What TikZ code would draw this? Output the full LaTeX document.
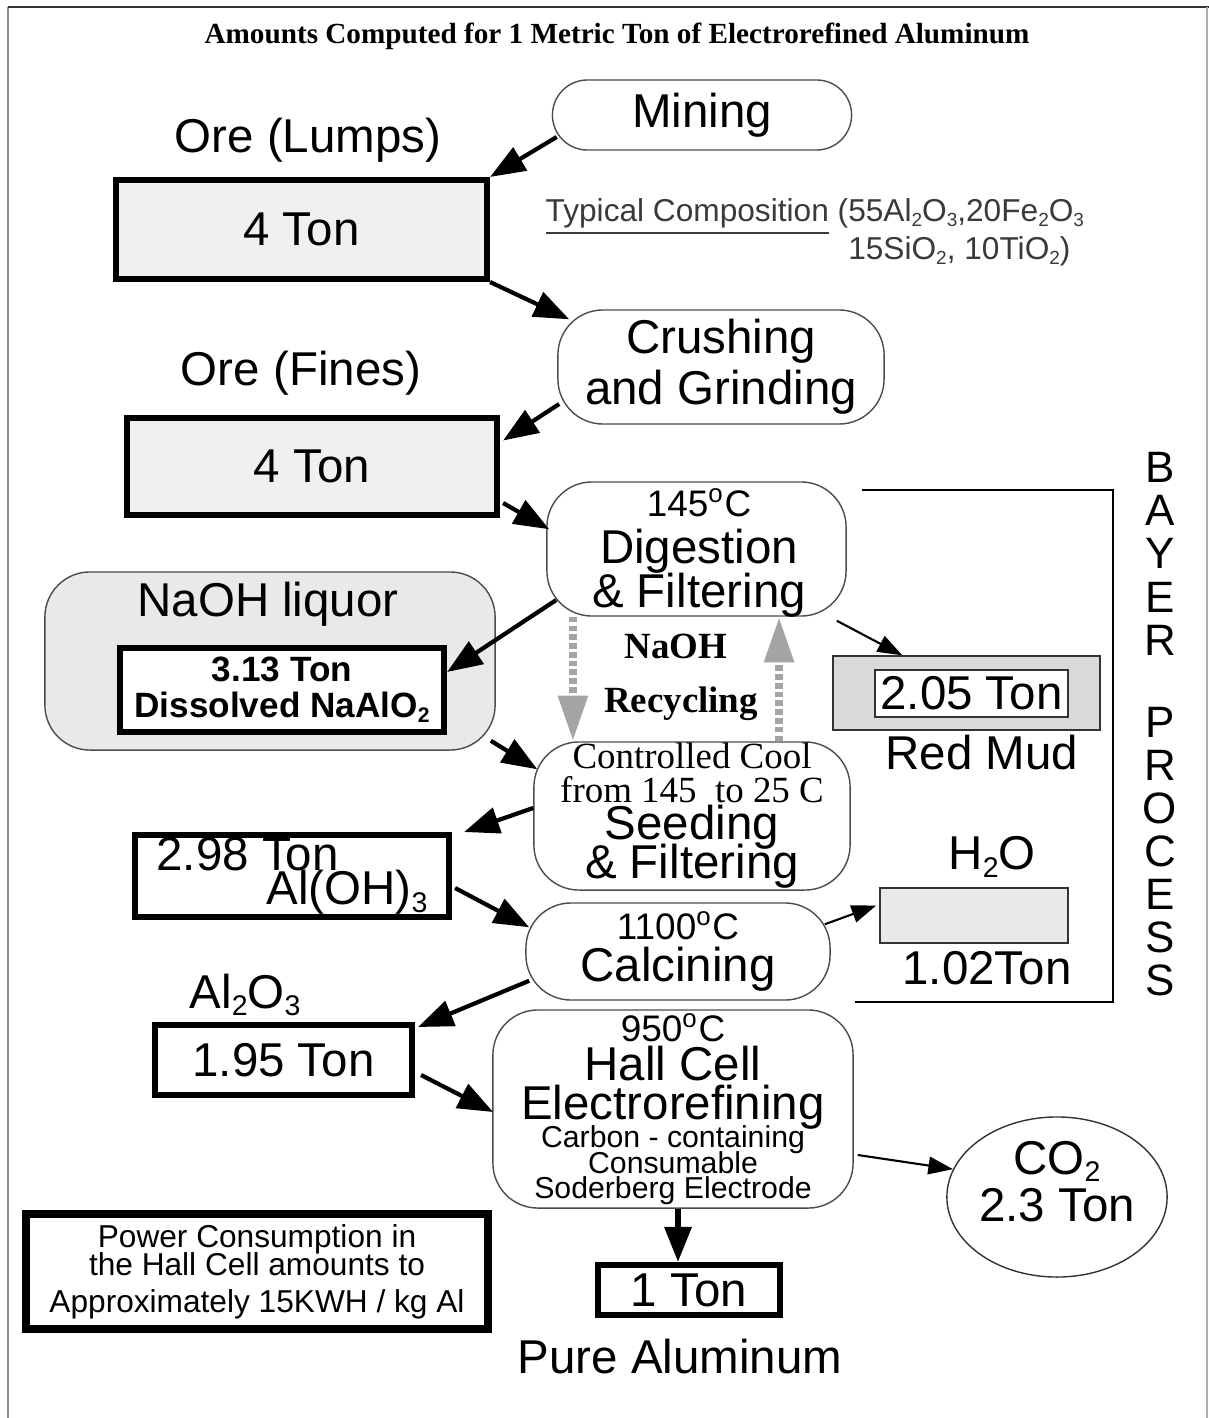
\documentclass[tikz,border=0pt]{standalone}
\usepackage{fontspec}
\setmainfont{Liberation Sans}
\newfontfamily\timesfont{Liberation Serif}
\usetikzlibrary{arrows.meta, positioning, shapes.geometric}
\definecolor{framegray}{HTML}{8c8c8c}
\definecolor{boxgray}{HTML}{f0f0f0}
\definecolor{liquorgray}{HTML}{e9e9e9}
\definecolor{mudgray}{HTML}{d9d9d9}
\definecolor{recyclegray}{HTML}{a4a4a4}
\definecolor{textgray}{HTML}{3a3a3a}
\newcommand{\degC}{\textsuperscript{o}C}
\newcommand{\chemsub}[1]{\raisebox{-0.3ex}{\scalebox{0.6}{#1}}}

\begin{document}
\begin{tikzpicture}[x=0.01cm, y=-0.01cm,
    big/.style={font=\fontsize{13.5}{13}\selectfont},
    proc/.style={draw=black!70, rounded corners=0.45cm, align=center, inner sep=0pt, big},
    heavy/.style={draw=black, line width=1.7pt, inner sep=0pt, align=center, big},
    flow/.style={line width=1.2pt, -{Triangle[length=10pt,width=7.5pt]}},
    thinflow/.style={line width=0.6pt, -{Triangle[length=7pt,width=5pt]}},
    recycle/.style={recyclegray, line width=2.4pt, dash pattern=on 1.6pt off 0.9pt,
      -{Triangle[length=13pt,width=8pt]}},
    serifbold/.style={font=\timesfont\bfseries\fontsize{10.5}{12}\selectfont}]
    \useasboundingbox (0,0) rectangle (1209,1418);
    \draw[framegray, line width=0.6pt] (8,1418) -- (8,7);
    \draw[black!80, line width=0.7pt] (8,7) -- (1209,7);
    \draw[framegray!70, line width=0.6pt] (1207,7) -- (1207,1418);

    \node (title) at (617,36)
      {\timesfont\bfseries\fontsize{8.3}{9}\selectfont Amounts Computed for 1 Metric Ton of Electrorefined Aluminum};

    % mining : ore lumps
    \node[proc, rounded corners=0.35cm, minimum width=2.99cm, minimum height=0.70cm] (mining) at (702,115) {Mining};
    \node[big] (lumpslbl) at (308,140) {Ore (Lumps)};
    \node[heavy, fill=boxgray, minimum width=3.71cm, minimum height=0.99cm] (lumps) at (301.5,229.5) {4 Ton};
    \node[anchor=west, align=left, inner sep=0pt, text=textgray, font=\fontsize{9}{10.8}\selectfont] (comp) at (545,236)
      {\underline{Typical Composition} (55Al\chemsub{2}O\chemsub{3},20Fe\chemsub{2}O\chemsub{3}\\
       \phantom{\underline{Typical Composition} (}15SiO\chemsub{2}, 10TiO\chemsub{2})};

    % crushing : ore fines
    \node[proc, minimum width=3.26cm, minimum height=1.14cm] (crush) at (721,367) {Crushing\\[1.5pt]and Grinding};
    \node[big] (fineslbl) at (301,373) {Ore (Fines)};
    \node[heavy, fill=boxgray, minimum width=3.70cm, minimum height=0.97cm] (fines) at (312,466.5) {4 Ton};

    % digestion : liquor and red mud
    \node[proc, minimum width=2.99cm, minimum height=1.34cm] (digest) at (696.5,549) {};
    \node[align=center, inner sep=0pt, big] (digesttxt) at (699,553)
      {{\fontsize{10.5}{13}\selectfont 145\degC}\\[0.5pt]Digestion\\[-0.5pt]\& Filtering};
    \node[draw=black!70, fill=liquorgray, rounded corners=0.45cm, minimum width=4.50cm, minimum height=1.78cm] (liquor) at (270,661) {};
    \node[big] (liquorlbl) at (268,604) {NaOH liquor};
    \node[heavy, fill=white, minimum width=3.24cm, minimum height=0.84cm, font=\bfseries\fontsize{10}{10}\selectfont] (naalo) at (282,690)
      {3.13 Ton\\Dissolved NaAlO\chemsub{2}};
    \node[draw=black!80, fill=mudgray, minimum width=2.67cm, minimum height=0.74cm] (redmud) at (966.5,693) {};
    \node[draw=black!80, fill=white, minimum width=1.93cm, minimum height=0.47cm, inner sep=0pt, big] (mudton) at (971.5,693.5) {2.05 Ton};
    \node[big] (redmudlbl) at (982,753) {Red Mud};

    % cooling and seeding
    \node[proc, minimum width=3.16cm, minimum height=1.48cm] (cool) at (692,816)
      {{\timesfont\fontsize{10.5}{13}\selectfont Controlled Cool}\\[-3.3pt]
       {\timesfont\fontsize{10.5}{13}\selectfont from 145\ \ to 25 C}\\[-2.6pt]
       Seeding\\[-1.8pt]\& Filtering};
    \node[serifbold] (naohlbl) at (676,646) {NaOH};
    \node[serifbold] (recyclbl) at (681,704) {Recycling};
    \node[heavy, align=left, minimum width=3.14cm, minimum height=0.82cm] (hydrox) at (292,876)
      {2.98 Ton\\[-3.2pt]\hspace*{1.1cm}Al(OH)\chemsub{3}};

    % calcining : water
    \node[proc, minimum width=3.04cm, minimum height=0.97cm] (calcine) at (678,951.5)
      {{\fontsize{10.5}{13}\selectfont 1100\degC}\\[-1pt]Calcining};
    \node[draw=black!80, fill=liquorgray, minimum width=1.88cm, minimum height=0.55cm] (water) at (974,915.5) {};
    \node[big] (waterlbl) at (992,857) {H\chemsub{2}O};
    \node[big] (waterton) at (987,968) {1.02Ton};

    % bayer process bracket
    \draw[line width=0.6pt] (862,490) -- (1113,490) -- (1113,1002) -- (855,1002);
    \foreach \l [count=\i from 0] in {B,A,Y,E,R}
      \node[font=\fontsize{12.5}{13}\selectfont] (bayer\i) at (1160,467+43.3*\i) {\l};
    \foreach \l [count=\i from 0] in {P,R,O,C,E,S,S}
      \node[font=\fontsize{12.5}{13}\selectfont] (process\i) at (1160,722+43*\i) {\l};

    % hall cell : alumina in, aluminium and co2 out
    \node[big] (aluminalbl) at (245,995) {Al\chemsub{2}O\chemsub{3}};
    \node[heavy, minimum width=2.57cm, minimum height=0.70cm] (alumina) at (283.5,1060) {1.95 Ton};
    \node[proc, minimum width=3.60cm, minimum height=1.98cm] (hall) at (673,1109)
      {{\fontsize{10.5}{13}\selectfont 950\degC}\\[-1.8pt]
       Hall Cell\\[-1.8pt]
       Electrorefining\\[-5pt]
       {\fontsize{8.6}{13}\selectfont Carbon - containing}\\[-5.8pt]
       {\fontsize{8.6}{13}\selectfont Consumable}\\[-5.8pt]
       {\fontsize{8.6}{13}\selectfont Soderberg Electrode}};
    \node[draw=black!80, ellipse, minimum width=1.80cm, minimum height=1.60cm, inner sep=0pt, align=center, big] (co2) at (1057,1197)
      {CO\chemsub{2}\\[0.3pt]2.3 Ton\\[-4pt]\mbox{}};
    \node[heavy, minimum width=1.82cm, minimum height=0.50cm] (pure) at (689,1290) {1 Ton};
    \node[big] (purelbl) at (680,1357) {Pure Aluminum};
    \node[heavy, line width=2.1pt, minimum width=4.62cm, minimum height=1.15cm, font=\fontsize{9}{10}\selectfont] (power) at (257,1271.5)
      {Power Consumption in\\[-2pt]the Hall Cell amounts to\\[0.5pt]Approximately 15KWH / kg Al};

    % flow arrows
    \draw[flow] ([shift={(5,22)}]mining.west) -- (lumps.north east);
    \draw[flow] (lumps.south east) -- ([shift={(12,10)}]crush.north west);
    \draw[flow] ([shift={(2,37)}]crush.west) -- ([shift={(3,-26)}]fines.east);
    \draw[flow] ([shift={(3,-15)}]fines.south east) -- ([shift={(3,48)}]digest.north west);
    \draw[flow] ([shift={(10,51)}]digest.west) -- ([shift={(0,-18)}]naalo.east);
    \draw[thinflow] ([shift={(-10,4)}]digest.south east) -- ([shift={(70,0)}]redmud.north west);
    \draw[recycle] ([xshift=-1.235cm]digest.south) -- ([xshift=-1.235cm]digest.south |- cool.north);
    \draw[recycle] ([xshift=0.825cm]digest.south |- cool.north) -- ([xshift=0.825cm]digest.south);
    \draw[flow] ([shift={(-5,-10)}]liquor.south east) -- ([shift={(4,28)}]cool.north west);
    \draw[flow] ([shift={(0,-8)}]cool.west) -- ([shift={(12,0)}]hydrox.north east);
    \draw[flow] ([shift={(3,12)}]hydrox.east) -- ([shift={(4,25)}]calcine.north west);
    \draw[thinflow] ([shift={(-6,22)}]calcine.north east) -- ([shift={(-3,-10)}]water.west);
    \draw[flow] ([shift={(4,-20)}]calcine.south west) -- ([shift={(3,5)}]alumina.north east);
    \draw[flow] ([shift={(6,15)}]alumina.east) -- ([shift={(1,3)}]hall.west);
    \draw[thinflow] ([shift={(4,46)}]hall.east) -- (co2.165);
    \draw[flow, line width=1.6pt] ([xshift=0.05cm]hall.south) -- ([xshift=0.05cm]hall.south |- pure.north);
\end{tikzpicture}
\end{document}
